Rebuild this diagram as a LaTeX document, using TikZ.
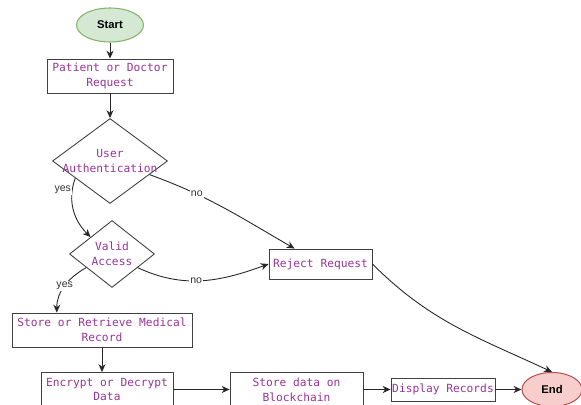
\documentclass[tikz,border=0pt]{standalone}
\usepackage{fontspec}
\setmainfont{Liberation Sans}
\newfontfamily\boxfont{DejaVu Sans Mono}
\usetikzlibrary{arrows.meta,shapes.geometric,calc}
\definecolor{boxtext}{RGB}{153,51,153}
\definecolor{startfill}{RGB}{213,232,212}
\definecolor{startline}{RGB}{130,179,102}
\definecolor{endfill}{RGB}{248,206,204}
\definecolor{endline}{RGB}{184,84,80}
\newdimen\px
\px=0.02cm
\newcommand{\smashtext}[1]{\smash{\raisebox{-2.2pt}{\makebox[0pt]{\begin{tabular}{@{}c@{}}#1\end{tabular}}}}}
\tikzset{
  flow/.style={-{Stealth[length=4.5pt,width=4pt]},black!85,line width=0.5pt},
  stepbox/.style={rectangle,draw=black!75,line width=0.5pt,inner sep=0pt,text=boxtext,
    font=\boxfont\fontsize{6.4}{8.5}\selectfont,align=center},
  decision/.style={diamond,draw=black!75,line width=0.5pt,inner sep=0pt,text=boxtext,
    font=\boxfont\fontsize{6.4}{8.5}\selectfont},
  terminal/.style={ellipse,line width=0.6pt,inner sep=0pt,font=\bfseries\fontsize{6.4}{7.5}\selectfont},
  edgelabel/.style={fill=white,inner sep=0.5pt,font=\fontsize{6}{7}\selectfont,text=black!80}
}

\begin{document}
\begin{tikzpicture}[x=0.02cm,y=-0.02cm]
  \useasboundingbox (0,0) rectangle (581,405);
  \clip (0,0) rectangle (581,405);
  % nodes
  \node[terminal,fill=startfill,draw=startline,minimum width=67\px,minimum height=34\px] (start) at (110,25) {Start};
  \node[stepbox,minimum width=126\px,minimum height=34\px] (req) at (110,76) {Patient or Doctor\\Request};
  \node[decision,minimum width=115\px,minimum height=85\px] (auth) at (110,161) {\smashtext{User\\Authentication}};
  \node[decision,minimum width=85\px,minimum height=67\px] (valid) at (112,254) {\smashtext{Valid\\Access}};
  \node[stepbox,minimum width=103\px,minimum height=30\px] (reject) at (320.5,264) {Reject Request};
  \node[stepbox,minimum width=180\px,minimum height=34\px] (store) at (102,330) {Store or Retrieve Medical\\Record};
  \node[stepbox,minimum width=132\px,minimum height=34\px] (crypt) at (107,389.5) {Encrypt or Decrypt\\Data};
  \node[stepbox,minimum width=133\px,minimum height=34\px] (chain) at (296.5,389.5) {Store data on\\Blockchain};
  \node[stepbox,minimum width=104\px,minimum height=23\px] (show) at (443,389.5) {Display Records};
  \node[terminal,fill=endfill,draw=endline,minimum width=60\px,minimum height=34\px] (finish) at (552,389.5) {End};
  % connectors
  \draw[flow] (start) -- (req);
  \draw[flow] (req) -- (auth);
  \draw[flow] (auth.-19) to[out=-20,in=150] node[edgelabel,pos=0.3] {no} ($(reject.north west)!0.25!(reject.north east)$);
  \draw[flow] ($(auth.west)!0.4!(auth.south)$) to[out=-110,in=135] node[edgelabel,pos=0.18,anchor=east] {yes} (valid.north west);
  \draw[flow] (valid.-28) to[out=-25,in=200] node[edgelabel,pos=0.45] {no} (reject.west);
  \draw[flow] ($(valid.west)!0.4!(valid.south)$) to[out=-150,in=90] node[edgelabel,pos=0.5] {yes} ($(store.north west)!0.25!(store.north east)$);
  \draw[flow] (reject.east) to[out=-45,in=155] (finish.north);
  \draw[flow] (store.south) -- (store.south |- crypt.north);
  \draw[flow] (crypt) -- (chain);
  \draw[flow] (chain) -- (show);
  \draw[flow] (show) -- (finish);
\end{tikzpicture}
\end{document}
